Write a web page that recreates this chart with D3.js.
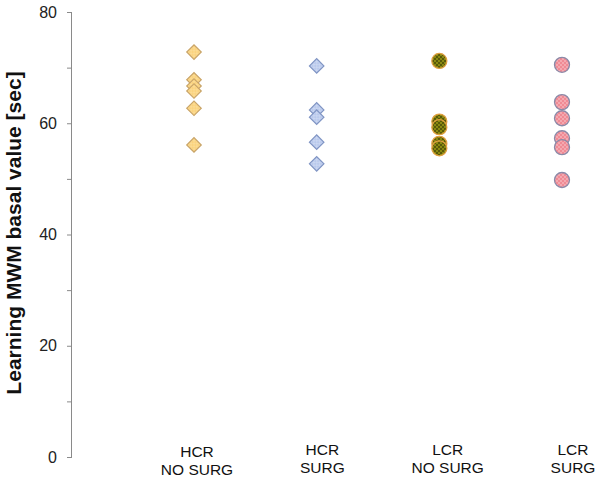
<!DOCTYPE html>
<html><head><meta charset="utf-8">
<script src="https://cdn.jsdelivr.net/npm/d3@7"></script>
<style>body{margin:0;background:#fff}svg{display:block}</style>
</head><body>
<script>
const categories = ["HCR|NO SURG","HCR|SURG","LCR|NO SURG","LCR|SURG"];
const hcrNoSurg = [72.8, 67.8, 66.7, 65.8, 62.7, 56.1];
const hcrSurg = [70.3, 62.4, 61.1, 56.6, 52.7];
const lcrNoSurg = [71.2, 60.3, 59.3, 56.3, 55.5];
const lcrSurg = [70.5, 63.8, 60.9, 57.3, 55.7, 49.8];
const yTicks = [0,10,20,30,40,50,60,70,80];
const yLabels = [0,20,40,60,80];

const W=600,H=481;
const svg=d3.select("body").append("svg").attr("width",W).attr("height",H);
const y=d3.scaleLinear().domain([0,80]).range([457,12]);
const x=d3.scalePoint().domain(categories).range([194,562]);
const xl=d3.scalePoint().domain(categories).range([197,573]);

const defs=svg.append("defs");
function pat(id,bg,dot,r){
  const p=defs.append("pattern").attr("id",id).attr("patternUnits","userSpaceOnUse").attr("width",4).attr("height",4);
  p.append("rect").attr("width",4).attr("height",4).attr("fill",bg);
  p.append("circle").attr("cx",1).attr("cy",1).attr("r",r).attr("fill",dot);
  p.append("circle").attr("cx",3).attr("cy",3).attr("r",r).attr("fill",dot);
}
pat("pOrange","#fbd37e","#fde9b8",0.7);
pat("pBlue","#b9c9ec","#e8eefa",0.7);
pat("pOlive","#8a8a10","#1a1a00",0.8);
pat("pPink","#f08a94","#fde0e3",0.7);

const series=[
 {vals:hcrNoSurg,shape:"diamond",fill:"url(#pOrange)",stroke:"#c9a468"},
 {vals:hcrSurg,shape:"diamond",fill:"url(#pBlue)",stroke:"#8095c4"},
 {vals:lcrNoSurg,shape:"circle",fill:"url(#pOlive)",stroke:"#e0a040"},
 {vals:lcrSurg,shape:"circle",fill:"url(#pPink)",stroke:"#8a8aa8"}
];

// axis
const ax=svg.append("g").attr("transform","translate(72,0)");
ax.call(d3.axisLeft(y).tickValues(yTicks).tickSize(5).tickFormat(d=>yLabels.includes(d)?d:""));
ax.select(".domain").attr("stroke","#8a8a8a").attr("d","M-0.5,"+y(80)+"V"+y(0));
ax.selectAll(".tick line").attr("stroke","#8a8a8a");
ax.selectAll(".tick text").attr("font-family","Liberation Sans, Arial").attr("font-size",16).attr("fill","#222").attr("x",-15);

svg.append("text").attr("transform","translate(21,233) rotate(-90)")
  .attr("text-anchor","middle").attr("font-family","Liberation Sans, Arial").attr("font-weight","bold")
  .attr("font-size",21).attr("fill","#111").text("Learning MWM basal value [sec]");

// x labels
categories.forEach((c,i)=>{
  const parts=c.split("|");
  const t=svg.append("text").attr("text-anchor","middle").attr("font-family","Liberation Sans, Arial")
   .attr("font-size",15.5).attr("fill","#111");
  parts.forEach((p,j)=>t.append("tspan").attr("x",xl(c)).attr("y",(i===0?457:455)+j*18).text(p));
});

// points
series.forEach((s,i)=>{
  const g=svg.append("g");
  s.vals.forEach(v=>{
    const cx=x(categories[i]),cy=y(v);
    if(s.shape==="diamond"){
      g.append("path").attr("d",d3.symbol(d3.symbolSquare,105)()).attr("transform",`translate(${cx},${cy}) rotate(45)`)
       .attr("fill",s.fill).attr("stroke",s.stroke).attr("stroke-width",1.2);
    } else {
      g.append("circle").attr("cx",cx).attr("cy",cy).attr("r",7.5)
       .attr("fill",s.fill).attr("stroke",s.stroke).attr("stroke-width",1.3);
    }
  });
});
</script>
</body></html>
